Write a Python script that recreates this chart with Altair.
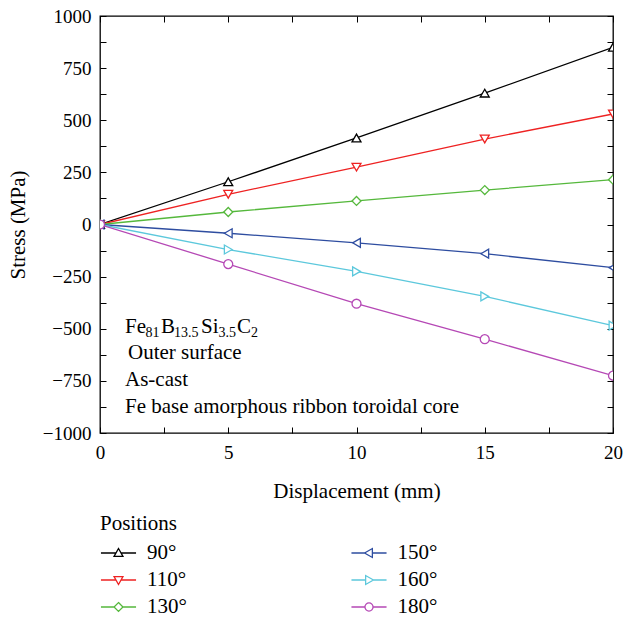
import altair as alt
import pandas as pd

# ---------------- data ----------------
displacement = [0, 5, 10, 15, 20]
positions = ["90°", "110°", "130°", "150°", "160°", "180°"]
stress_90 = [0, 205, 415, 630, 850]
stress_110 = [0, 145, 275, 410, 530]
stress_130 = [0, 60, 113, 165, 215]
stress_150 = [0, -42, -88, -140, -207]
stress_160 = [0, -120, -225, -345, -485]
stress_180 = [0, -190, -380, -550, -725]
series_values = [stress_90, stress_110, stress_130, stress_150, stress_160, stress_180]

colors = ["#000000", "#ee2222", "#55b83c", "#2e4da0", "#5cc8dc", "#b548b5"]
shapes = ["triangle-up", "triangle-down", "diamond", "triangle-left", "triangle-right", "circle"]
# legend glyphs: short line with the marker in the middle
legend_paths = [
    "M-1.3,0H-0.19M0.19,0H1.3M0,-0.33L0.33,0.25H-0.33Z",
    "M-1.3,0H-0.19M0.19,0H1.3M0,0.33L0.33,-0.25H-0.33Z",
    "M-1.3,0H-0.33M0.33,0H1.3M0,-0.33L0.33,0L0,0.33L-0.33,0Z",
    "M-1.3,0H-0.33M0.25,0H1.3M-0.33,0L0.25,-0.33V0.33Z",
    "M-1.3,0H-0.25M0.33,0H1.3M0.33,0L-0.25,-0.33V0.33Z",
    "M-1.3,0H-0.3M0.3,0H1.3M0.3,0A0.3,0.3,0,1,1,-0.3,0A0.3,0.3,0,1,1,0.3,0Z",
]

x_ticks = [0, 2.5, 5, 7.5, 10, 12.5, 15, 17.5, 20]
y_ticks = list(range(-1000, 1001, 125))

rows = []
for name, vals in zip(positions, series_values):
    for d, s in zip(displacement, vals):
        rows.append({"Displacement": d, "Stress": s, "Position": name})
df = pd.DataFrame(rows)

# legend table: three rows per column
leg_df = pd.DataFrame({
    "Position": positions,
    "col": [i // 3 for i in range(len(positions))],
    "row": [i % 3 for i in range(len(positions))],
})

FONT = "Liberation Serif"


def cscale():
    return alt.Scale(domain=positions, range=colors)


x_scale = alt.Scale(domain=[0, 20], nice=False, zero=False)
y_scale = alt.Scale(domain=[-1000, 1000], nice=False, zero=False)

TICK = 6

x_bottom = alt.X(
    "Displacement:Q", scale=x_scale,
    axis=alt.Axis(orient="bottom", values=x_ticks, offset=-TICK, tickSize=TICK, domain=False, grid=False,
                  format="d", labelExpr="datum.value % 5 === 0 ? datum.label : ''",
                  labelFont=FONT, labelFontSize=19, labelColor="black", labelPadding=10,
                  labelFlush=False, tickColor="black", tickWidth=1,
                  title="Displacement (mm)", titleFont=FONT, titleFontSize=21,
                  titleFontWeight="normal", titleColor="black", titlePadding=18),
)
y_left = alt.Y(
    "Stress:Q", scale=y_scale,
    axis=alt.Axis(orient="left", values=y_ticks, offset=-TICK, tickSize=TICK, domain=False, grid=False,
                  format="d", labelExpr="datum.value % 250 === 0 ? datum.label : ''",
                  labelFont=FONT, labelFontSize=19, labelColor="black", labelPadding=9,
                  labelFlush=False, tickColor="black", tickWidth=1,
                  title="Stress (MPa)", titleFont=FONT, titleFontSize=21,
                  titleFontWeight="normal", titleColor="black", titlePadding=14),
)
x_top = alt.X(
    "Displacement:Q", scale=x_scale,
    axis=alt.Axis(orient="top", values=x_ticks, offset=-TICK, tickSize=TICK, domain=False, grid=False,
                  labels=False, title=None, tickColor="black", tickWidth=1),
)
y_right = alt.Y(
    "Stress:Q", scale=y_scale,
    axis=alt.Axis(orient="right", values=y_ticks, offset=-TICK, tickSize=TICK, domain=False, grid=False,
                  labels=False, title=None, tickColor="black", tickWidth=1),
)

base = alt.Chart(df)

lines = base.mark_line(strokeWidth=1.3, clip=True).encode(
    x=x_bottom, y=y_left,
    stroke=alt.Stroke("Position:N", scale=cscale(), legend=None),
    detail="Position:N",
)

point_layers = []
for i, (name, shp) in enumerate(zip(positions, shapes)):
    if i == 0:
        xe, ye = x_top, y_right
    else:
        xe = alt.X("Displacement:Q", scale=x_scale, axis=None)
        ye = alt.Y("Stress:Q", scale=y_scale, axis=None)
    pl = base.transform_filter(alt.datum.Position == name).mark_point(
        shape=shp, filled=False, fill="white", size=80, strokeWidth=1.3, opacity=1, clip=True
    ).encode(
        x=xe, y=ye,
        stroke=alt.Stroke("Position:N", scale=cscale(), legend=None),
    )
    point_layers.append(pl)

# ---------------- legend (drawn below the plot) ----------------
leg_x = alt.X("col:Q", scale=alt.Scale(domain=[0, 1], range=[18.5, 269]), axis=None)
leg_y = alt.Y("row:Q", scale=alt.Scale(domain=[0, 2], range=[537, 591]), axis=None)
leg_base = alt.Chart(leg_df)
leg_symbols = leg_base.mark_point(filled=False, opacity=1, size=729, strokeWidth=1.3).encode(
    x=leg_x, y=leg_y,
    stroke=alt.Stroke("Position:N", scale=cscale(), legend=None),
    shape=alt.Shape("Position:N", scale=alt.Scale(domain=positions, range=legend_paths), legend=None),
)
leg_labels = leg_base.mark_text(
    font=FONT, fontSize=21, color="black", align="left", baseline="middle", dx=28.5
).encode(x=leg_x, y=leg_y, text="Position:N")

# ---------------- annotation ----------------
ann_df = pd.DataFrame({"k": [0]})


def txt(text, x, y, size=21):
    return alt.Chart(ann_df).mark_text(
        text=text, font=FONT, fontSize=size, color="black", align="left", baseline="alphabetic"
    ).encode(x=alt.value(x), y=alt.value(y))


formula_parts = [("Fe", 0, 0, 21), ("81", 20.5, 4, 14), ("B", 36, 0, 21), ("13.5", 49, 4, 14),
                 ("Si", 76, 0, 21), ("3.5", 93.5, 4, 14), ("C", 112, 0, 21), ("2", 126, 4, 14)]
ann_layers = [txt(t, 25 + dx, 317 + dy, s) for t, dx, dy, s in formula_parts]
ann_layers += [
    txt("Outer surface", 28, 343),
    txt("As-cast", 25, 370),
    txt("Fe base amorphous ribbon toroidal core", 25, 397),
    txt("Positions", 0, 514),
]

chart = alt.layer(lines, *point_layers, leg_symbols, leg_labels, *ann_layers).resolve_axis(
    x="independent", y="independent"
).resolve_scale(
    x="independent", y="independent"
).properties(
    width=513, height=417,
    autosize=alt.AutoSizeParams(type="none"),
    padding={"left": 100, "top": 16, "right": 10, "bottom": 187},
    background="white",
).configure_view(stroke="black", strokeWidth=1.3)

chart.save("out.html", embed_options={"renderer": "svg", "actions": False})
